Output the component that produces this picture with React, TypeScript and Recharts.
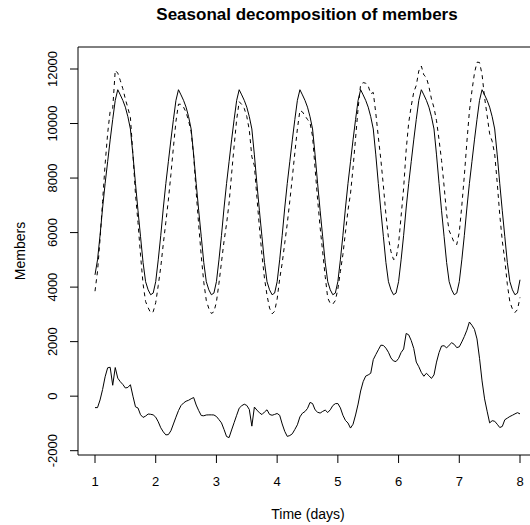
import React from "react";
import { LineChart, Line, XAxis, YAxis, ReferenceArea } from "recharts";

// x axis: days 1..8, hourly samples
const dayTicks = [1, 2, 3, 4, 5, 6, 7, 8];
const memberTicks = [-2000, 0, 2000, 4000, 6000, 8000, 10000, 12000];
const hours = Array.from({ length: 169 }, (_, i) => 1 + i / 24);

// dashed line: observed members
const observed = [
  3850, 4580, 5760, 7145, 8510, 9640, 10460, 10550, 11950, 11850, 11580, 11280, 10900, 10570, 10220, 8850, 7410, 6365, 5170, 4120, 3470, 3245, 3055, 3094,
  3430, 4060, 4740, 5590, 6380, 7190, 8130, 9130, 10080, 10710, 10705, 10600, 10415, 10100, 9705, 8800, 7475, 6270, 5140, 4180, 3510, 3214, 3034, 3090,
  3455, 4140, 4920, 5680, 6320, 7080, 8160, 9180, 10150, 10800, 10700, 10555, 10260, 9760, 8780, 8450, 7290, 6190, 5175, 4320, 3700, 3230, 3020, 3110,
  3565, 4300, 4880, 5610, 6325, 7155, 8020, 8930, 9800, 10480, 10426, 10285, 10150, 10020, 9530, 8350, 7210, 6180, 5290, 4390, 3600, 3400, 3375, 3505,
  3930, 4570, 5200, 6010, 6815, 7430, 8370, 9460, 10560, 11430, 11500, 11480, 11380, 11090, 11140, 10375, 9500, 8670, 7710, 6660, 5810, 5300, 5010, 5050,
  5585, 6600, 7630, 9030, 10030, 10640, 11150, 11400, 11930, 12110, 11780, 11690, 11350, 10900, 10580, 10100, 9400, 8640, 7700, 6670, 6070, 5860, 5620, 5560,
  6010, 6990, 8090, 9320, 10450, 11200, 11850, 12250, 12240, 11800, 10950, 10300, 9620, 9350, 8880, 7820, 6650, 5690, 4985, 4095, 3455, 3200, 3070, 3175,
  3620,
];

// solid line: seasonal pattern
const seasonal = [
  4450, 5000, 5900, 6900, 7800, 8600, 9400, 10150, 10850, 11240, 11050, 10850, 10600, 10250, 9800, 8850, 7800, 6800, 5850, 4900, 4200, 3900, 3720, 3780,
  4200, 5000, 5900, 6900, 7800, 8600, 9400, 10150, 10850, 11240, 11050, 10850, 10600, 10250, 9800, 8850, 7800, 6800, 5850, 4900, 4200, 3900, 3720, 3780,
  4200, 5000, 5900, 6900, 7800, 8600, 9400, 10150, 10850, 11240, 11050, 10850, 10600, 10250, 9800, 8850, 7800, 6800, 5850, 4900, 4200, 3900, 3720, 3780,
  4200, 5000, 5900, 6900, 7800, 8600, 9400, 10150, 10850, 11240, 11050, 10850, 10600, 10250, 9800, 8850, 7800, 6800, 5850, 4900, 4200, 3900, 3720, 3780,
  4200, 5000, 5900, 6900, 7800, 8600, 9400, 10150, 10850, 11240, 11050, 10850, 10600, 10250, 9800, 8850, 7800, 6800, 5850, 4900, 4200, 3900, 3720, 3780,
  4200, 5000, 5900, 6900, 7800, 8600, 9400, 10150, 10850, 11240, 11050, 10850, 10600, 10250, 9800, 8850, 7800, 6800, 5850, 4900, 4200, 3900, 3720, 3780,
  4200, 5000, 5900, 6900, 7800, 8600, 9400, 10150, 10850, 11240, 11050, 10850, 10600, 10250, 9800, 8850, 7800, 6800, 5850, 4900, 4200, 3900, 3720, 3780,
  4270,
];

// bottom line: remainder
const remainder = [
  -420, -420, -140, 245, 710, 1040, 1060, 400, 1050, 660, 530, 430, 300, 320, 420, 0, -390, -435, -680, -780, -730, -655, -665, -686,
  -770, -940, -1160, -1310, -1420, -1410, -1270, -1020, -770, -530, -345, -250, -185, -150, -95, -50, -325, -530, -710, -720, -690, -686, -686, -690,
  -745, -860, -980, -1220, -1480, -1520, -1240, -970, -700, -440, -350, -295, -340, -490, -1100, -400, -510, -610, -675, -580, -500, -670, -700, -670,
  -635, -700, -1020, -1290, -1475, -1445, -1380, -1220, -1050, -760, -624, -565, -450, -230, -270, -500, -590, -620, -560, -510, -600, -500, -345, -275,
  -270, -430, -700, -890, -985, -1170, -1030, -690, -290, 190, 530, 735, 780, 840, 1340, 1525, 1700, 1870, 1860, 1760, 1610, 1400, 1290, 1270,
  1385, 1600, 1730, 2300, 2250, 2040, 1750, 1250, 1080, 870, 730, 840, 750, 650, 780, 1250, 1600, 1840, 1850, 1770, 1870, 1960, 1900, 1780,
  1810, 1990, 2190, 2420, 2720, 2600, 2450, 2100, 1390, 560, -100, -550, -980, -900, -920, -1030, -1150, -1110, -865, -805, -745, -700, -650, -605,
  -650,
];

const rows = hours.map((t, i) => ({
  t,
  observed: observed[i],
  seasonal: seasonal[i],
  remainder: remainder[i],
}));

const FONT = "'Liberation Sans', Arial, Helvetica, sans-serif";
const X_DOMAIN: [number, number] = [0.72, 8.28];
const Y_DOMAIN: [number, number] = [-2158, 12807];

function YTick({ y, payload }: any) {
  return (
    <g>
      <line x1={70} x2={78} y1={y} y2={y} stroke="#000" strokeWidth={1} />
      <text
        x={57}
        y={y}
        transform={`rotate(-90 57 ${y})`}
        textAnchor="middle"
        fontSize={13}
        fontFamily={FONT}
        fill="#000"
      >
        {payload.value}
      </text>
    </g>
  );
}

function XTick({ x, payload }: any) {
  return (
    <g>
      <line x1={x} x2={x} y1={455} y2={463} stroke="#000" strokeWidth={1} />
      <text x={x} y={486} textAnchor="middle" fontSize={13} fontFamily={FONT} fill="#000">
        {payload.value}
      </text>
    </g>
  );
}

export default function App() {
  return (
    <div
      style={{
        position: "absolute",
        left: 0,
        top: 0,
        width: 530,
        height: 525,
        overflow: "hidden",
        background: "#fff",
      }}
    >
      <LineChart width={560} height={525} data={rows} margin={{ top: 47, right: 23, bottom: 0, left: 0 }}>
        <XAxis
          dataKey="t"
          type="number"
          domain={X_DOMAIN}
          ticks={dayTicks}
          allowDataOverflow
          height={70}
          axisLine={false}
          tickLine={false}
          tick={<XTick />}
        />
        <YAxis
          type="number"
          domain={Y_DOMAIN}
          ticks={memberTicks}
          allowDataOverflow
          width={78}
          axisLine={false}
          tickLine={false}
          tick={<YTick />}
        />
        <ReferenceArea
          x1={X_DOMAIN[0]}
          x2={X_DOMAIN[1]}
          y1={Y_DOMAIN[0]}
          y2={Y_DOMAIN[1]}
          fill="none"
          stroke="#000"
          strokeWidth={1}
          fillOpacity={0}
          ifOverflow="visible"
        />
        <Line
          dataKey="observed"
          type="linear"
          stroke="#000"
          strokeWidth={1}
          strokeDasharray="4 4"
          dot={false}
          activeDot={false}
          isAnimationActive={false}
        />
        <Line
          dataKey="seasonal"
          type="linear"
          stroke="#000"
          strokeWidth={1}
          dot={false}
          activeDot={false}
          isAnimationActive={false}
        />
        <Line
          dataKey="remainder"
          type="linear"
          stroke="#000"
          strokeWidth={1}
          dot={false}
          activeDot={false}
          isAnimationActive={false}
        />
      </LineChart>
      <svg
        width={530}
        height={525}
        style={{ position: "absolute", left: 0, top: 0, pointerEvents: "none" }}
      >
        <text x={307} y={20} textAnchor="middle" fontSize={17} fontWeight="bold" fontFamily={FONT} fill="#000">
          Seasonal decomposition of members
        </text>
        <text x={308} y={519} textAnchor="middle" fontSize={14} fontFamily={FONT} fill="#000">
          Time (days)
        </text>
        <text
          x={25}
          y={251}
          transform="rotate(-90 25 251)"
          textAnchor="middle"
          fontSize={14}
          fontFamily={FONT}
          fill="#000"
        >
          Members
        </text>
      </svg>
    </div>
  );
}
